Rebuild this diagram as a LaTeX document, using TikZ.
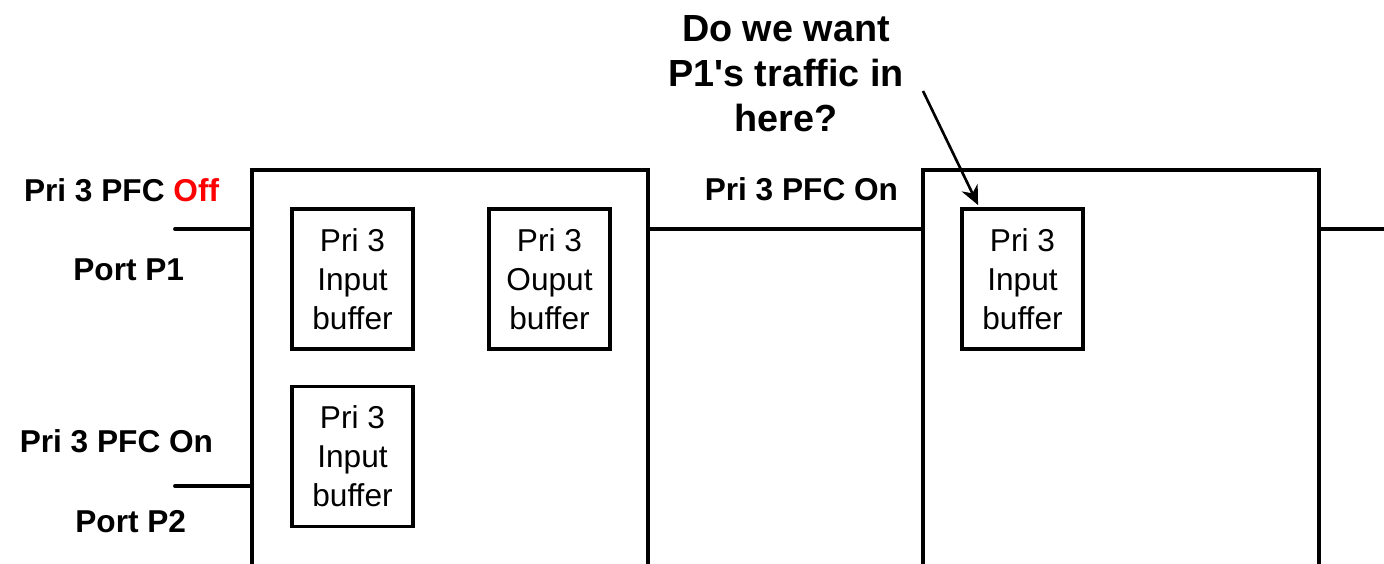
\documentclass[tikz,border=0pt]{standalone}
\usepackage{fontspec}
\setmainfont{Liberation Sans}
\usepackage{xcolor}
\usetikzlibrary{positioning,arrows.meta}

\begin{document}
\begin{tikzpicture}[
    x=0.02cm, y=-0.02cm,
    line width=2.2pt,
    switch/.style={draw, minimum width=7.92cm, minimum height=8cm, inner sep=0pt},
    buffer/.style={draw, align=center, minimum width=2.42cm, minimum height=2.8cm, inner sep=0pt, font=\fontsize{18}{22.1}\selectfont},
    portlabel/.style={anchor=base east, inner sep=0pt, font=\fontsize{18}{21}\selectfont\bfseries},
    wire/.style={line cap=round}
]
    \clip (0,0) rectangle (1384,564);

    % switches
    \node [switch] (sw1) at (450,370) {};
    \node [switch] (sw2) at (1121,370) {};

    % buffers
    \node [buffer] (in1) at (352.5,279) {Pri 3\\Input\\buffer};
    \node [buffer] (out1) at (549.5,279) {Pri 3\\Ouput\\buffer};
    \node [buffer] (in2) at (352.5,456.5) {Pri 3\\Input\\buffer};
    \node [buffer] (in3) at (1022.5,279) {Pri 3\\Input\\buffer};

    % wires
    \coordinate (p1) at (175,229);
    \coordinate (p2) at (175,486);
    \coordinate (exit) at (1384,229);
    \draw [wire] (p1) -- (sw1.west |- p1);
    \draw [wire] (p2) -- (sw1.west |- p2);
    \draw [wire] (sw1.east |- p1) -- (sw2.west |- p1);
    \draw [wire] (sw2.east |- p1) -- (exit);

    % labels
    \node [portlabel] (l1) at (221,202) {Pri 3 PFC \textcolor{red}{Off}};
    \node [portlabel] (l2) at (186,281) {Port P1};
    \node [portlabel] (l3) at (215,453) {Pri 3 PFC On};
    \node [portlabel] (l4) at (188,532) {Port P2};
    \node [portlabel] (l5) at (900,201) {Pri 3 PFC On};

    % question
    \node [align=center, anchor=north, inner sep=0pt, font=\fontsize{21.5}{25.5}\selectfont\bfseries] (ask) at (786,14)
        {Do we want\\P1\textquotesingle s traffic in\\here?};
    \coordinate (q) at (923,91);
    \draw [line width=1.5pt, -{Stealth[length=11pt, width=10pt]}] (q) -- ([xshift=0.36cm, yshift=0.04cm]in3.north west);
\end{tikzpicture}
\end{document}
